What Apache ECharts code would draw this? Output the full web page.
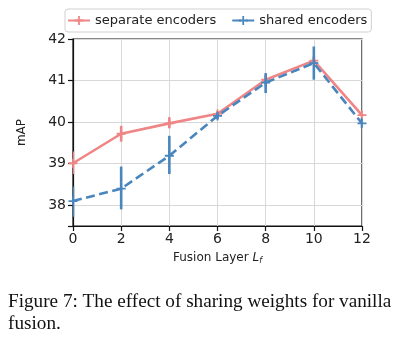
<!DOCTYPE html>
<html><head><meta charset="utf-8">
<script src="https://cdn.jsdelivr.net/npm/echarts@6/dist/echarts.min.js"></script>
<style>html,body{margin:0;padding:0;background:#fff}#c{width:401px;height:342px}</style>
</head><body><div id="c"></div>
<script>
const layers = [0, 2, 4, 6, 8, 10, 12];
const sepMean = [39.01, 39.72, 39.97, 40.2, 41.02, 41.48, 40.17];
const sepLow  = [38.75, 39.53, 39.85, 40.14, 40.93, 41.4, 40.1];
const sepHigh = [39.29, 39.91, 40.12, 40.26, 41.12, 41.58, 40.25];
const shMean = [38.1, 38.4, 39.19, 40.15, 40.95, 41.42, 39.97];
const shLow  = [37.72, 37.9, 38.75, 40.07, 40.7, 41.02, 39.85];
const shHigh = [38.45, 38.93, 39.67, 40.23, 41.18, 41.82, 40.1];
const yTicks = [38, 39, 40, 41, 42];
const xTicks = [0, 2, 4, 6, 8, 10, 12];
const caption = ['Figure 7: The effect of sharing weights for vanilla', 'fusion.'];

const SEP = '#f08585', SH = '#4a86be';
const plus = 'path://M4,0H6V4H10V6H6V10H4V6H0V4H4Z';

function pts(m){ return layers.map((x,i)=>[x,m[i]]); }
function errData(lo,hi){ return layers.map((x,i)=>[x,lo[i],hi[i]]); }
function errSeries(name, lo, hi, color){
  return {
    type:'custom', name: name, data: errData(lo,hi), z: name==='shared encoders'?4:2, clip:true,
    renderItem: function(params, api){
      const a = api.coord([api.value(0), api.value(1)]);
      const b = api.coord([api.value(0), api.value(2)]);
      return {type:'line', shape:{x1:a[0],y1:a[1],x2:b[0],y2:b[1]}, style:{stroke:color, lineWidth:2.6}};
    }
  };
}
const chart = echarts.init(document.getElementById('c'), null, {renderer:'canvas'});
chart.setOption({
  animation:false,
  textStyle:{fontFamily:'DejaVu Sans'},
  grid:{left:73, top:39, right:39, bottom:116, show:true, borderColor:'#111', borderWidth:1.2, backgroundColor:'transparent'},
  legend:{
    top:9, left:65, orient:'horizontal', itemWidth:22, itemHeight:11, itemGap:15,
    padding:[5,4,5,2],
    data:['separate encoders','shared encoders'],
    borderColor:'#d0d0d0', borderWidth:1, borderRadius:3,
    textStyle:{fontSize:13, color:'#222', fontFamily:'DejaVu Sans'}
  },
  xAxis:{
    type:'value', min:0, max:12, interval:2,
    name:'Fusion Layer {i|L}{s|f}', nameLocation:'middle', nameGap:25,
    nameTextStyle:{fontSize:12, color:'#222', rich:{i:{fontStyle:'italic',fontSize:12,color:'#222'}, s:{fontStyle:'italic',fontSize:8,color:'#222',padding:[6,0,0,0]}}},
    axisLine:{show:true, lineStyle:{color:'#111', width:1.2}},
    axisTick:{show:true, inside:false, length:5, lineStyle:{color:'#111', width:1.2}},
    axisLabel:{fontSize:14, color:'#222', margin:6},
    splitLine:{show:true, lineStyle:{color:'#d8d8d8', width:1}}
  },
  yAxis:{
    type:'value', min:37.5, max:42, splitNumber:5,
    name:'mAP', nameLocation:'middle', nameGap:45, nameRotate:90,
    nameTextStyle:{fontSize:12, color:'#222'},
    axisLine:{show:true, lineStyle:{color:'#111', width:1.2}},
    axisTick:{show:true, inside:false, length:5, lineStyle:{color:'#111', width:1.2}},
    axisLabel:{fontSize:14, color:'#222', margin:7, formatter: v => yTicks.includes(v) ? String(v) : ''},
    splitLine:{show:true, lineStyle:{color:'#d8d8d8', width:1}}
  },
  series:[
    {name:'separate encoders', type:'line', data:pts(sepMean), z:3, clip:true,
     symbol:plus, symbolSize:9, showSymbol:true,
     lineStyle:{color:SEP, width:2.6}, itemStyle:{color:SEP}},
    errSeries('separate encoders', sepLow, sepHigh, SEP),
    {name:'shared encoders', type:'line', data:pts(shMean), z:5, clip:true,
     symbol:plus, symbolSize:9, showSymbol:true,
     lineStyle:{color:SH, width:2.6, type:[9,4.5]}, itemStyle:{color:SH}},
    errSeries('shared encoders', shLow, shHigh, SH)
  ],
  graphic:[
    {type:'text', left:8, top:291, style:{text:caption.join('\n'), font:'19.2px "Liberation Serif"', fill:'#111', lineHeight:22}}
  ]
});
</script></body></html>
